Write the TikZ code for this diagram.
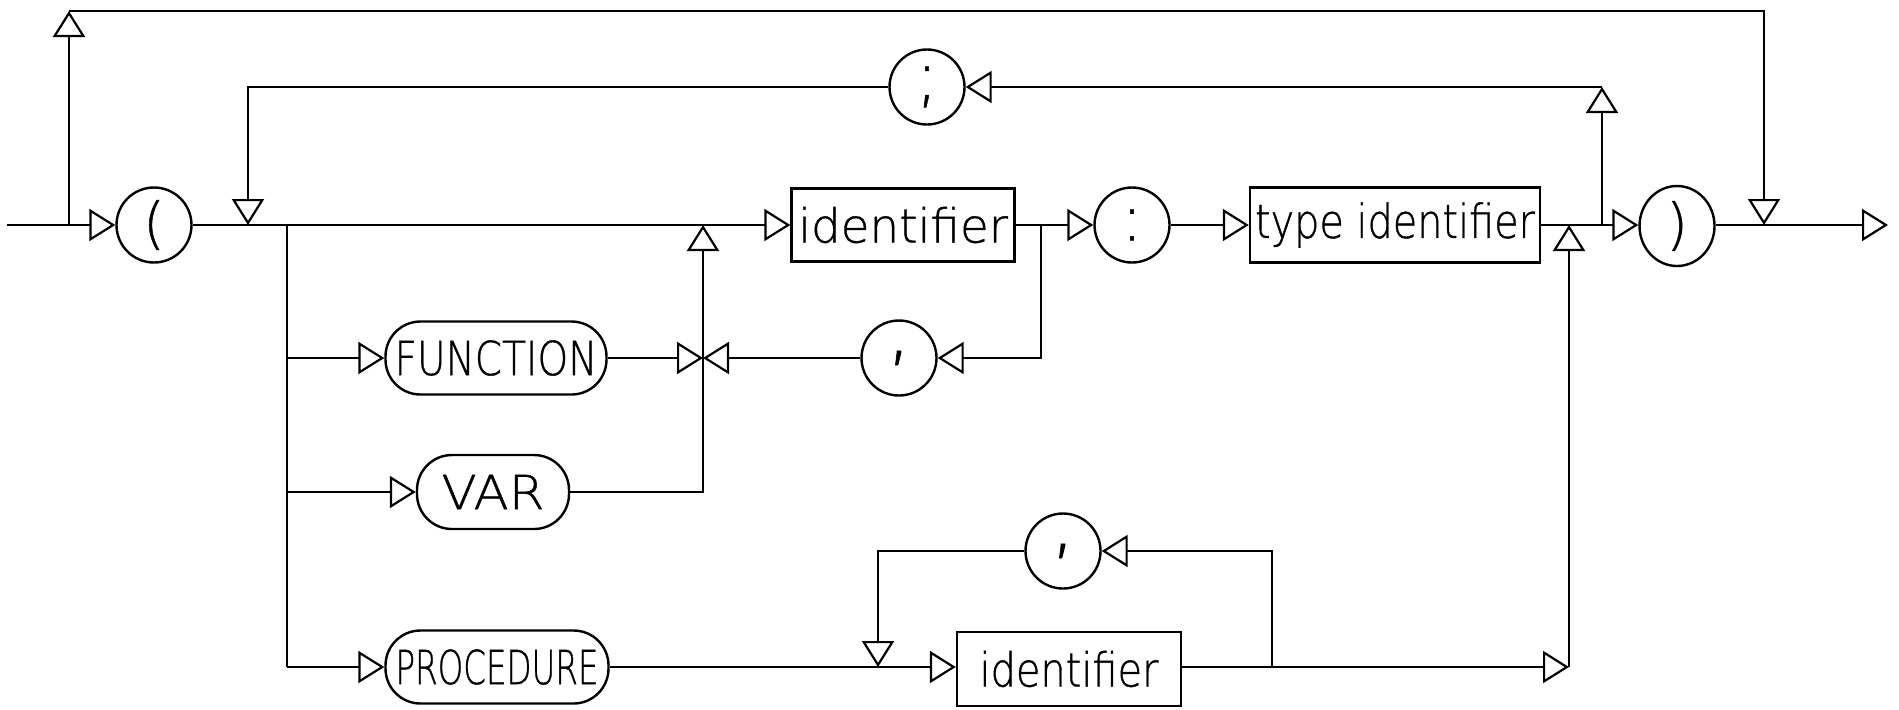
\documentclass[tikz,border=0pt]{standalone}
\usepackage{fontspec}
\usetikzlibrary{arrows.meta,shapes.geometric}
\IfFontExistsTF{DejaVu Sans ExtraLight}{\newfontfamily\hand{DejaVu Sans ExtraLight}[FakeBold=0.8]}{\newfontfamily\hand{DejaVu Sans}}
\newsavebox\fitbx
\newcommand\fitw[2]{\sbox\fitbx{#2}\edef\fitwd{\the\wd\fitbx}\pgfmathsetmacro\fitfac{#1/\fitwd}\scalebox{\fitfac}[1]{\usebox\fitbx}}
\begin{document}
\begin{tikzpicture}[
  x=0.5pt, y=-0.5pt,
  line width=1.1pt,
  >={Triangle[length=13pt,width=16pt,fill=white]},
  tok/.style={circle, draw, line width=1.2pt, minimum size=37.5pt, inner sep=0pt, font=\hand\fontsize{28}{30}\selectfont},
  idbox/.style={rectangle, draw, line width=1.2pt, inner sep=0pt, minimum height=36.5pt, font=\hand\fontsize{23.5}{28}\selectfont},
  kw/.style={rectangle, rounded corners=17.5pt, draw, line width=1.2pt, inner sep=0pt, minimum height=36.5pt, font=\hand\fontsize{23.5}{28}\selectfont}
]
\useasboundingbox (0,0) rectangle (1899,709);

% nodes
\node[tok] (paren) at (154,225) {(};
\node[tok] (semi) at (927,87) {\fontsize{34}{36}\selectfont ;};
\node[tok] (colon) at (1132,225) {\fontsize{32}{34}\selectfont :};
\node[tok] (comma1) at (899,358) {\fontsize{40}{40}\selectfont ,};
\node[tok] (comma2) at (1063,551) {\fontsize{40}{40}\selectfont ,};
\node[tok, ellipse, minimum width=37.5pt, minimum height=40pt] (rparen) at (1677,226) {)};
\node[idbox, minimum width=111.5pt] (id1) at (903,225) {\fitw{105}{identifier}};
\node[idbox, minimum width=145pt, minimum height=37.5pt] (tid) at (1395,225) {\fitw{140}{type identifier}};
\node[idbox, minimum width=112pt, minimum height=37pt] (id2) at (1069,669) {\fitw{89.5}{identifier}};
\node[kw, minimum width=110.5pt] (fn) at (496,358) {\fitw{101.5}{FUNCTION}};
\node[kw, minimum width=76pt, minimum height=37pt] (var) at (493,492) {\fitw{51.5}{VAR}};
\node[kw, minimum width=111.5pt] (proc) at (497,667) {\fitw{101.5}{PROCEDURE}};

% coordinates
\coordinate (start) at (7,225);
\coordinate (endp) at (1888,225);
\coordinate (b1) at (69,225);
\coordinate (t1) at (69,11);
\coordinate (t2) at (1764,11);
\coordinate (b2) at (1764,225);
\coordinate (l2a) at (248,87);
\coordinate (l2b) at (248,225);
\coordinate (r1) at (1602,225);
\coordinate (r2) at (1602,87);
\coordinate (bx0) at (287,225);
\coordinate (bx1) at (287,358);
\coordinate (bx2) at (287,492);
\coordinate (bx3) at (287,667);
\coordinate (j0) at (703,225);
\coordinate (j1) at (703,358);
\coordinate (j2) at (703,492);
\coordinate (k0) at (1041,225);
\coordinate (k1) at (1041,358);
\coordinate (m0) at (878,551);
\coordinate (m1) at (878,667);
\coordinate (n0) at (1272,667);
\coordinate (n1) at (1272,551);
\coordinate (p0) at (1569,667);
\coordinate (p1) at (1569,225);

% main row
\draw[->] (start) -- (paren.west);
\draw[->] (b1) -- (t1);
\draw[->] (t1) -- (t2) -- (b2);
\draw[->] (paren.east) -- (id1.west);
\draw[->] (id1.east) -- (colon.west);
\draw[->] (colon.east) -- (tid.west);
\draw[->] (tid.east) -- (rparen.west |- tid.east);
\draw[->] (rparen.east |- endp) -- (endp);

% semicolon loop
\draw[->] (r1) -- (r2);
\draw[->] (r2) -- (semi.east);
\draw[->] (semi.west) -- (l2a) -- (l2b);

% branches
\draw (bx0) -- (bx3);
\draw[->] (bx1) -- (fn.west);
\draw[->] (bx2) -- (var.west);
\draw[->] (bx3) -- (proc.west);
\draw[->] (var.east) -- (j2) -- (j0);
\draw[->] (fn.east) -- (j1);
\draw[->] (comma1.west) -- (j1);
\draw[->] (k0) -- (k1) -- (comma1.east);

% procedure row
\draw[->] (proc.east) -- (id2.west |- m1);
\draw[->] (comma2.west) -- (m0) -- (m1);
\draw (id2.east |- p0) -- (n0);
\draw[->] (n0) -- (p0);
\draw[->] (n0) -- (n1) -- (comma2.east);
\draw[->] (p0) -- (p1);
\end{tikzpicture}
\end{document}
